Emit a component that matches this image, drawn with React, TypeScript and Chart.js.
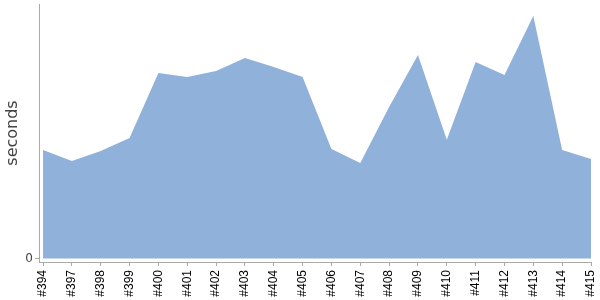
import React, { useEffect, useRef } from "react";
import { Chart, registerables } from "chart.js";

Chart.register(...registerables);

const buildLabels: string[] = [
  "#394", "#397", "#398", "#399", "#400", "#401", "#402", "#403", "#404", "#405",
  "#406", "#407", "#408", "#409", "#410", "#411", "#412", "#413", "#414", "#415",
];

const durations: number[] = [
  42.6, 38.3, 42.2, 47.3, 72.9, 71.3, 73.7, 78.8, 75.2, 71.3,
  43.0, 37.5, 59.5, 80.0, 46.6, 77.2, 72.1, 95.3, 42.6, 39.1,
];

const yTicks: number[] = [0];

export default function App() {
  const ref = useRef<HTMLCanvasElement | null>(null);

  useEffect(() => {
    if (!ref.current) return;
    const chart = new Chart(ref.current, {
      type: "line",
      data: {
        datasets: [
          {
            data: durations.map((v, i) => ({ x: i, y: v })),
            fill: "origin",
            backgroundColor: "rgb(143,177,218)",
            borderWidth: 0,
            borderColor: "rgba(0,0,0,0)",
            pointRadius: 0,
            tension: 0,
          },
        ],
      },
      options: {
        animation: false,
        responsive: false,
        maintainAspectRatio: false,
        layout: { padding: { top: 4, right: 9, left: 0, bottom: 3 } },
        plugins: { legend: { display: false }, tooltip: { enabled: false } },
        scales: {
          x: {
            type: "linear",
            min: -0.14,
            max: buildLabels.length - 1,
            afterBuildTicks: (axis: any) => {
              axis.ticks = buildLabels.map((_, i) => ({ value: i }));
            },
            afterFit: (axis: any) => {
              axis.paddingLeft = 0;
              axis.paddingRight = 0;
              axis.height = 35;
            },
            ticks: {
              autoSkip: false,
              maxRotation: 90,
              minRotation: 90,
              padding: 4,
              color: "#000",
              font: { family: "Liberation Sans", size: 12 },
              callback: (v: any) => buildLabels[Math.round(Number(v))] ?? "",
            },
            grid: {
              display: true,
              drawOnChartArea: false,
              tickLength: 4,
              color: "#aaa",
            },
            border: { display: true, color: "#aaa", width: 1 },
          },
          y: {
            type: "linear",
            min: -1.4,
            max: 100,
            afterBuildTicks: (axis: any) => {
              axis.ticks = yTicks.map((v) => ({ value: v }));
            },
            afterFit: (axis: any) => {
              axis.paddingTop = 0;
              axis.paddingBottom = 0;
              axis.width = 39;
            },
            ticks: {
              padding: 2,
              color: "#444",
              font: { family: "DejaVu Sans", size: 12 },
              callback: (v: any) => String(v),
            },
            grid: {
              display: true,
              drawOnChartArea: false,
              tickLength: 4,
              color: "#aaa",
            },
            border: { display: true, color: "#aaa", width: 1 },
            title: {
              display: true,
              text: "seconds",
              color: "#444",
              font: { family: "DejaVu Sans", size: 16 },
              padding: { top: 3, bottom: 2 },
            },
          },
        },
      },
    });
    return () => chart.destroy();
  }, []);

  return (
    <div style={{ position: "fixed", left: 0, top: 0, width: 600, height: 300, background: "#fff" }}>
      <canvas ref={ref} width={600} height={300} />
    </div>
  );
}
